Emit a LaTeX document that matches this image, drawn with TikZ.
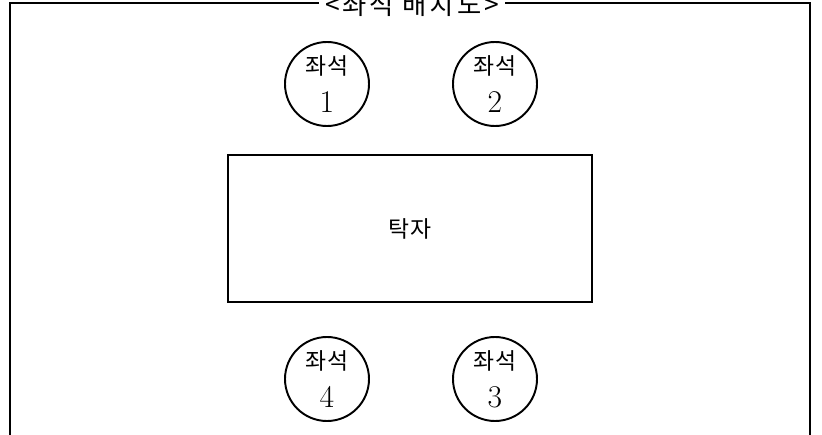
\documentclass[tikz,border=0pt]{standalone}
\usepackage{fontspec}
\newfontfamily\kr{Noto Sans CJK KR}
\newfontfamily\krwide[LetterSpace=11]{Noto Sans CJK KR}
\usetikzlibrary{calc}
\tikzset{ seat/.style = { circle % seat
        , draw
        , line width = 1.1pt
        , minimum size = 16.8mm
        , inner sep = 0pt
        , align = center
        , font = \kr\fontsize{13}{21.5}\selectfont
        }
        , tbl/.style = { rectangle % table
        , draw
        , line width = 1.1pt
        , minimum width = 72.8mm
        , minimum height = 29.4mm
        , font = \kr\fontsize{13}{16}\selectfont
        }
        , ttl/.style = { rectangle % title
        , fill = white
        , inner xsep = 1.2mm
        , inner ysep = 0pt
        , font = \krwide\fontsize{15}{16}\selectfont
        }
        }
\newcommand{\seatno}[1]{{\rmfamily\fontsize{18}{21.5}\selectfont #1}}

\begin{document}
\begin{tikzpicture}[x=0.2mm, y=-0.2mm,
        frame_style/.style={draw=black, line width=1.1pt}]
        \useasboundingbox (0,0) rectangle (822,435);

        \draw [frame_style] (10,440) -- (10,3) -- (810,3) -- (810,440);
        \node [ttl](title) at (412,5) {<좌석 배치도>};

        \node [tbl](table) at (410,228.5) {탁자};

        \node [seat](seat1) at (327,84) {좌석\\\seatno{1}};
        \node [seat](seat2) at (495,84) {좌석\\\seatno{2}};
        \node [seat](seat3) at (495,379) {좌석\\\seatno{3}};
        \node [seat](seat4) at (327,379) {좌석\\\seatno{4}};

        \end{tikzpicture}
\end{document}
